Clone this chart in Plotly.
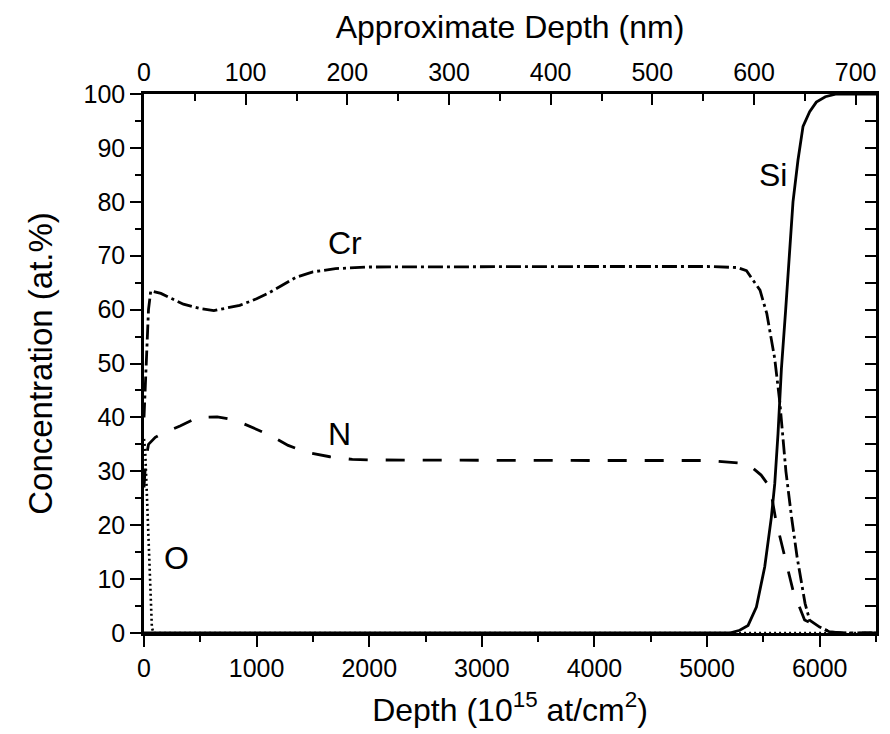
import plotly.graph_objects as go

# ---- data (depth in 1e15 at/cm^2, concentration in at.%) ----
cr_depth = [0, 20, 40, 60, 150, 250, 350, 500, 620, 850, 1000, 1100, 1200, 1350, 1500,
            1700, 2000, 3000, 4000, 5000, 5270, 5350, 5470, 5530, 5600, 5645, 5700,
            5750, 5800, 5870, 5910, 6000, 6090, 6200, 6500]
cr_conc = [40, 52, 60, 63.5, 63, 62, 61, 60.2, 59.8, 60.8, 62, 63, 64.2, 66, 67,
           67.6, 67.9, 68, 68, 68, 67.8, 67.2, 63.6, 59.3, 51, 43, 30,
           21.5, 14, 5.5, 2.4, 1.1, 0.2, 0, 0]

n_depth = [0, 15, 40, 100, 160, 320, 480, 650, 810, 970, 1120, 1280, 1450, 1650, 1850,
           2000, 3000, 4000, 5000, 5360, 5480, 5560, 5610, 5675, 5763, 5866, 6000,
           6089, 6200, 6500]
n_conc = [27, 32, 35, 36.3, 37, 38.4, 40, 40.1, 39.5, 38, 36.7, 34.8, 33.5, 32.7, 32.2,
          32.1, 32, 32, 32, 31.4, 29.3, 27, 21, 15.4, 7.9, 2.4, 1.1,
          0.2, 0, 0]

o_depth = [0, 10, 25, 40, 55, 70, 85, 1000, 3000, 5000, 6500]
o_conc = [36, 34, 26, 17, 8, 1, 0, 0, 0, 0, 0]

si_depth = [0, 1000, 3000, 5200, 5290, 5364, 5438, 5512, 5571, 5601, 5630, 5660, 5698,
            5727, 5763, 5807, 5852, 5911, 5970, 6050, 6150, 6500]
si_conc = [0, 0, 0, 0, 0.5, 1.4, 4.8, 12.3, 21.5, 27.7, 37, 49, 60,
           69, 80, 87.7, 94, 96.7, 98.5, 99.5, 100, 100]

labels = ["Cr", "N", "O", "Si"]
label_x = [1784, 1740, 290, 5583]
label_y = [72.3, 37.0, 13.9, 85.0]

x_range = [0, 6500]
x2_range = [0, 720]
y_range = [0, 100]

FONT = "Liberation Sans, Arial, sans-serif"

fig = go.Figure()
fig.add_trace(go.Scatter(x=cr_depth, y=cr_conc, mode="lines", name="Cr",
                         line=dict(color="black", width=2.8, dash="15px,4px,3px,4px")))
fig.add_trace(go.Scatter(x=n_depth, y=n_conc, mode="lines", name="N",
                         line=dict(color="black", width=2.8, dash="19px,18px")))
fig.add_trace(go.Scatter(x=o_depth, y=o_conc, mode="lines", name="O",
                         line=dict(color="black", width=2.6, dash="2px,3px")))
fig.add_trace(go.Scatter(x=si_depth, y=si_conc, mode="lines", name="Si",
                         line=dict(color="black", width=2.8)))
# empty trace to register the secondary (top / right) axes
fig.add_trace(go.Scatter(x=[], y=[], xaxis="x2", yaxis="y2", showlegend=False,
                         hoverinfo="skip"))

for t, xx, yy in zip(labels, label_x, label_y):
    fig.add_annotation(x=xx, y=yy, text=t, showarrow=False,
                       font=dict(size=32, color="black", family=FONT))

axis_common = dict(showline=True, linecolor="black", linewidth=2.5, showgrid=False,
                   zeroline=False, tickcolor="black", tickwidth=2,
                   tickfont=dict(size=25, color="black", family=FONT))

fig.update_layout(
    width=890, height=734,
    margin=dict(l=144, r=14, t=94, b=101),
    paper_bgcolor="white", plot_bgcolor="white",
    showlegend=False,
    font=dict(family=FONT, color="black"),
    xaxis=dict(range=x_range, dtick=1000, ticks="outside", ticklen=11,
               minor=dict(dtick=500, ticks="outside", ticklen=6, tickcolor="black", tickwidth=2),
               title=dict(text="Depth (10<sup>15</sup> at/cm<sup>2</sup>)",
                          font=dict(size=32, family=FONT), standoff=18),
               **axis_common),
    yaxis=dict(range=y_range, dtick=10, ticks="outside", ticklen=11,
               minor=dict(dtick=5, ticks="outside", ticklen=6, tickcolor="black", tickwidth=2),
               title=dict(text="Concentration (at.%)",
                          font=dict(size=33, family=FONT), standoff=21),
               **axis_common),
    xaxis2=dict(range=x2_range, dtick=100, ticks="inside", ticklen=11, side="top",
                overlaying="x", anchor="y",
                minor=dict(dtick=50, ticks="inside", ticklen=7, tickcolor="black", tickwidth=2),
                title=dict(text="Approximate Depth (nm)",
                           font=dict(size=32, family=FONT), standoff=11),
                **axis_common),
    yaxis2=dict(range=y_range, dtick=10, ticks="inside", ticklen=11, side="right",
                overlaying="y", anchor="x", showticklabels=False,
                minor=dict(dtick=5, ticks="inside", ticklen=11, tickcolor="black", tickwidth=2),
                **axis_common),
)

fig.write_html("out.html", config={"displayModeBar": False},
               post_script="document.body.style.margin='0';")
